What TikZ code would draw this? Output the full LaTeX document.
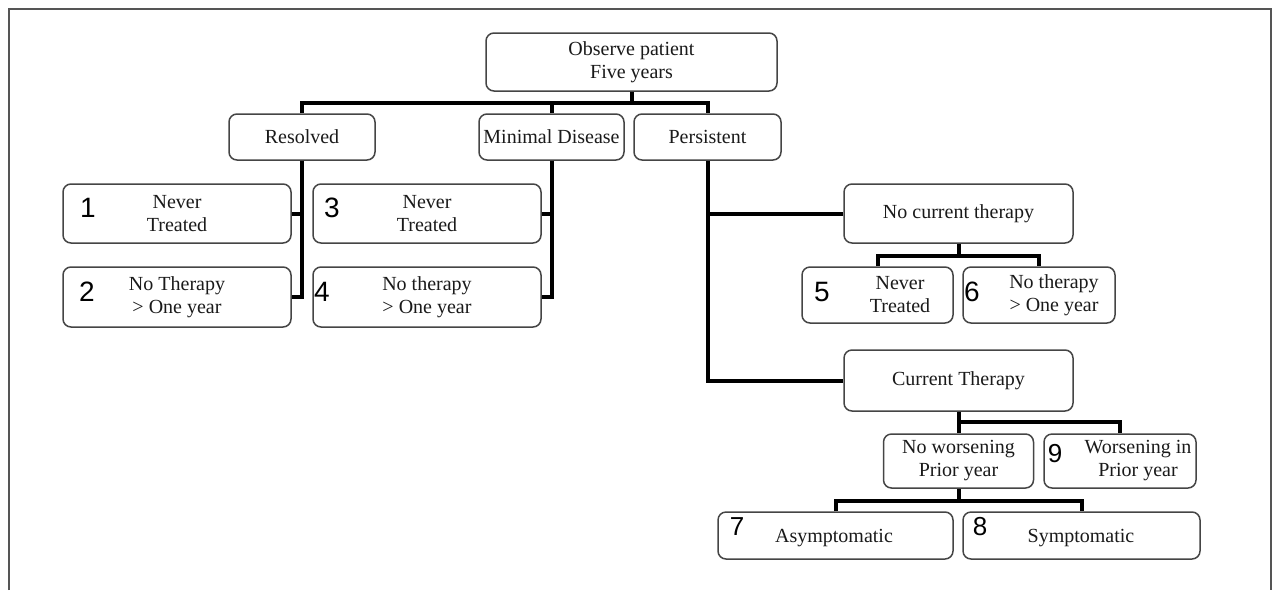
\documentclass[tikz,border=0pt]{standalone}
\usepackage{fontspec}
\setmainfont{Liberation Serif}
\newfontfamily\numfont{Liberation Sans}
\usetikzlibrary{calc}
\definecolor{boxgray}{HTML}{454545}
\definecolor{framegray}{HTML}{555555}
\definecolor{inkc}{HTML}{1A1A1A}
\begin{document}
\begin{tikzpicture}[x=1pt,y=-1pt,
 box/.style={draw=boxgray, line width=1.5pt, rounded corners=8pt, fill=white, inner sep=0pt, align=center, text=inkc, font=\fontsize{20}{23}\selectfont},
 txt/.style={inner sep=0pt, align=center, text=inkc, font=\fontsize{20}{23}\selectfont},
 num/.style={inner sep=0pt, text=black, font=\numfont\fontsize{28}{28}\selectfont},
 numsm/.style={inner sep=0pt, text=black, font=\numfont\fontsize{26}{26}\selectfont},
 conn/.style={line width=4pt, line join=miter, draw=black},
]
\useasboundingbox (0,0) rectangle (1273,590);
% frame
\draw[framegray, line width=2pt] (8.5,590) -- (8.5,9) -- (1270.5,9) -- (1270.5,590);

% nodes
\node[box, minimum width=291pt, minimum height=58pt] (root) at (631.5,62) {Observe patient\\Five years};
\node[box, minimum width=146pt, minimum height=46pt] (res) at (302,137) {Resolved};
\node[box, minimum width=145pt, minimum height=46pt] (mind) at (551.5,137) {Minimal Disease};
\node[box, minimum width=147pt, minimum height=46pt] (pers) at (707.5,137) {Persistent};

\node[box, minimum width=228pt, minimum height=59pt] (b1) at (177,213.5) {Never\\Treated};
\node[box, minimum width=228pt, minimum height=60pt] (b2) at (177,297) {No Therapy\\> One year};
\node[box, minimum width=228pt, minimum height=59pt] (b3) at (427,213.5) {Never\\Treated};
\node[box, minimum width=228pt, minimum height=60pt] (b4) at (427,297) {No therapy\\> One year};

\node[box, minimum width=229pt, minimum height=59pt] (nct) at (958.5,213.5) {No current therapy};
\node[box, minimum width=151pt, minimum height=56pt] (b5) at (877.5,295) {};
\node[txt] (t5) at (900,295) {Never\\Treated};
\node[box, minimum width=152pt, minimum height=56pt] (b6) at (1039,295) {};
\node[txt] (t6) at (1054,295) {No therapy\\> One year};

\node[box, minimum width=229pt, minimum height=61pt] (ct) at (958.5,380.5) {Current Therapy};
\node[box, minimum width=150pt, minimum height=54pt] (nw) at (958.5,461) {No worsening\\Prior year};
\node[box, minimum width=152pt, minimum height=54pt] (b9) at (1120,461) {};
\node[txt] (t9) at (1138,461) {Worsening in\\Prior year};

\node[box, minimum width=235pt, minimum height=47pt] (b7) at (835.5,535.5) {};
\node[txt] (t7) at (834,538) {Asymptomatic};
\node[box, minimum width=237pt, minimum height=47pt] (b8) at (1081.5,535.5) {};
\node[txt] (t8) at (1081,538) {Symptomatic};

% numbers
\node[num] (n1) at (88,208) {1};
\node[num] (n2) at (87,292) {2};
\node[num] (n3) at (332,208) {3};
\node[num] (n4) at (322,292) {4};
\node[num] (n5) at (822,291.5) {5};
\node[num] (n6) at (972,291.5) {6};
\node[numsm] (n7) at (737,527) {7};
\node[numsm] (n8) at (980,527) {8};
\node[numsm] (n9) at (1055,454) {9};

% connectors
\coordinate (rb) at (631.5,103);
\draw[conn] (root.south) -- (rb);
\draw[conn] (res.north) |- (rb) -| (pers.north);
\draw[conn] (mind.north) -- (mind.north |- rb);

\draw[conn] (res.south) |- (b2.east);
\draw[conn] (b1.east) -- (b1.east -| res.south);
\draw[conn] (mind.south) |- (b4.east);
\draw[conn] (b3.east) -- (b3.east -| mind.south);

\draw[conn] (pers.south) |- (ct.west);
\draw[conn] (nct.west) -- (nct.west -| pers.south);

\coordinate (nb) at (958.5,256);
\draw[conn] (nct.south) -- (nb);
\draw[conn] (b5.north) |- (nb) -| (b6.north);

\coordinate (cb) at (958.5,422);
\draw[conn] (ct.south) -- (nw.north);
\draw[conn] (cb) -| (b9.north);

\coordinate (wb) at (958.5,501);
\draw[conn] (nw.south) -- (wb);
\draw[conn] (b7.north) |- (wb) -| (b8.north);
\end{tikzpicture}
\end{document}
